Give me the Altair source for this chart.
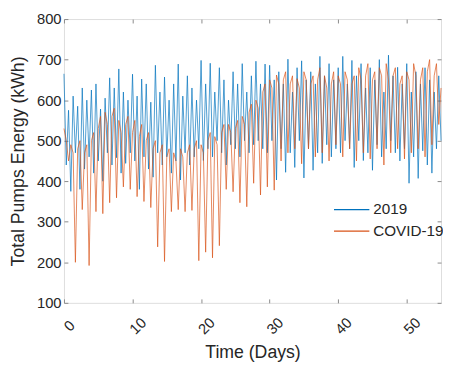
import altair as alt
import pandas as pd

# 2019 series: alternating highs/lows every 1/3 day
blue_peaks = [
    665, 575, 610, 585, 630, 600, 625, 640, 578, 605, 655, 630, 677, 620, 600,
    664, 610, 652, 640, 595, 686, 620, 657, 600, 640, 689, 610, 660, 630, 600,
    698, 640, 691, 620, 680, 650, 600, 670, 640, 690, 620, 660, 696, 640, 689,
    686, 650, 670, 640, 701, 620, 680, 697, 650, 670, 640, 708, 660, 690, 650,
    680, 708, 640, 698, 660, 690, 630, 680, 650, 700, 620, 711, 660, 681, 640,
    690, 620, 670, 640, 680, 650, 620, 660,
]
blue_troughs = [
    440, 375, 470, 380, 430, 460, 420, 450, 400, 470, 440, 458, 420, 444, 470,
    450, 380, 460, 430, 410, 470, 440, 460, 420, 450, 403, 470, 440, 460, 480,
    451, 480, 460, 500, 470, 440, 490, 480, 460, 500, 470, 490, 500, 480, 470,
    500, 403, 480, 422, 470, 434, 500, 408, 480, 427, 470, 444, 490, 460, 480,
    470, 500, 480, 434, 500, 451, 470, 427, 490, 460, 480, 500, 470, 450, 480,
    395, 460, 407, 475, 440, 420, 480, 500,
]

# COVID-19 series: three readings per day
covid_days = [
    [530, 500, 450], [490, 470, 200], [480, 500, 330], [470, 490, 192], [500, 520, 325],
    [530, 560, 320], [570, 540, 347], [560, 580, 359], [550, 520, 386], [540, 560, 380],
    [520, 550, 362], [510, 540, 350], [500, 520, 335], [480, 500, 238], [470, 490, 202],
    [460, 480, 325], [470, 450, 330], [480, 460, 325], [470, 490, 328], [480, 500, 204],
    [490, 470, 225], [500, 520, 211], [510, 490, 241], [520, 540, 380], [540, 520, 374],
    [530, 550, 347], [560, 540, 337], [570, 590, 395], [600, 580, 366], [620, 640, 386],
    [650, 630, 378], [662, 640, 450], [650, 670, 470], [640, 660, 480], [653, 630, 443],
    [670, 650, 480], [640, 660, 460], [650, 680, 470], [660, 630, 450], [640, 670, 490],
    [660, 640, 460], [670, 650, 480], [640, 660, 450], [680, 650, 470], [660, 690, 455],
    [650, 670, 480], [680, 660, 440], [690, 650, 470], [660, 680, 480], [640, 660, 455],
    [670, 650, 470], [690, 660, 480], [650, 680, 460], [670, 700, 490], [660, 690, 540],
]
covid_last = 630

x_ticks = [0, 10, 20, 30, 40, 50]
y_ticks = [100, 200, 300, 400, 500, 600, 700, 800]

blue = []
for p, tr in zip(blue_peaks, blue_troughs):
    blue += [p, tr]
covid = [v for trip in covid_days for v in trip] + [covid_last]

rows = []
for i, v in enumerate(blue):
    rows.append({"t": i / 3, "v": v, "s": "2019"})
for i, v in enumerate(covid):
    rows.append({"t": i / 3, "v": v, "s": "COVID-19"})
df = pd.DataFrame(rows)

FONT = "Liberation Sans"
TXT = "#262626"
FRAME = "#8a8a8a"
INWARD = {"expr": "-4"}

color = alt.Color(
    "s:N",
    scale=alt.Scale(domain=["2019", "COVID-19"], range=["#0072BD", "#D95319"]),
    legend=alt.Legend(
        title=None, orient="none", legendX=274, legendY=187,
        symbolType="stroke", symbolSize=1296, symbolStrokeWidth=1.2,
        labelFontSize=15.5, labelFont=FONT, labelColor=TXT, rowPadding=6,
        clipHeight=14, labelOffset=3, padding=0,
    ),
)

xs = alt.Scale(domain=[0, 55], nice=False, zero=False)
ys = alt.Scale(domain=[100, 800], nice=False, zero=False)

base = alt.Chart(df)

l1 = base.transform_filter(alt.datum.s == "2019").mark_line(strokeWidth=0.7).encode(
    x=alt.X("t:Q", scale=xs, axis=alt.Axis(
        orient="bottom", values=x_ticks, title="Time (Days)", labelAngle=-45,
        labelAlign="center", labelBaseline="middle", labelPadding=27, labelOffset=5,
        labelFontSize=15, labelFont=FONT, labelColor=TXT, domain=False,
        tickSize=INWARD, tickColor=FRAME, grid=False,
        titleFontSize=18, titleFont=FONT, titleFontWeight="normal",
        titleColor=TXT, titlePadding=7)),
    y=alt.Y("v:Q", scale=ys, axis=alt.Axis(
        orient="left", values=y_ticks, title="Total Pumps Energy (kWh)",
        labelFontSize=15, labelFont=FONT, labelColor=TXT, labelPadding=7,
        domain=False, tickSize=INWARD, tickColor=FRAME, grid=False,
        titleFontSize=18, titleFont=FONT, titleFontWeight="normal",
        titleColor=TXT, titlePadding=9)),
    color=color,
)

l2 = base.transform_filter(alt.datum.s == "COVID-19").mark_line(strokeWidth=0.7).encode(
    x=alt.X("t:Q", scale=xs, axis=alt.Axis(
        orient="top", values=x_ticks, title=None, labels=False, domain=False,
        tickSize=INWARD, tickColor=FRAME, grid=False)),
    y=alt.Y("v:Q", scale=ys, axis=alt.Axis(
        orient="right", values=y_ticks, title=None, labels=False, domain=False,
        tickSize=INWARD, tickColor=FRAME, grid=False)),
    color=color,
)

chart = alt.layer(l1, l2).resolve_axis(x="independent", y="independent").properties(
    width=384, height=289,
    autosize=alt.AutoSizeParams(type="none"),
    padding={"left": 57, "top": 8, "right": 2, "bottom": 58},
).configure_view(stroke=FRAME, strokeWidth=1).configure(background="white")

chart.save("out.html", embed_options={"renderer": "svg", "actions": False})
